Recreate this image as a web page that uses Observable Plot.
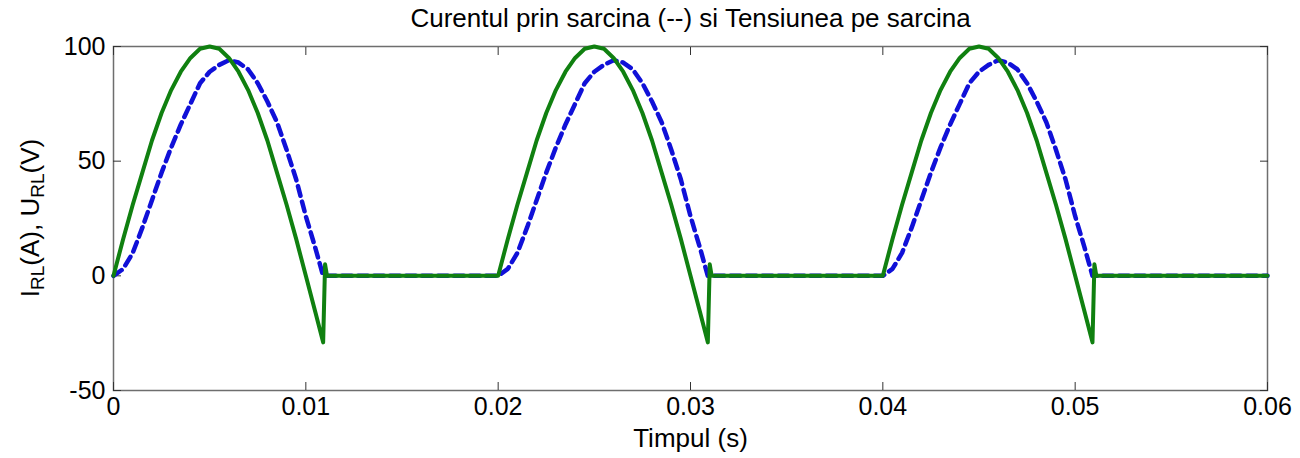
<!DOCTYPE html>
<html>
<head>
<meta charset="utf-8">
<script src="https://cdn.jsdelivr.net/npm/d3@7"></script>
<script src="https://cdn.jsdelivr.net/npm/@observablehq/plot@0.6"></script>
<style>
  html, body { margin: 0; padding: 0; background: #fff; }
  #chart svg { display: block; }
</style>
</head>
<body>
<div id="chart"></div>
<script>
// ---- data ----
const titleText = "Curentul prin sarcina (--) si Tensiunea pe sarcina";
const xLabel = "Timpul (s)";
const xTicks = [0, 0.01, 0.02, 0.03, 0.04, 0.05, 0.06];
const xTickLabels = ["0", "0.01", "0.02", "0.03", "0.04", "0.05", "0.06"];
const yTicks = [-50, 0, 50, 100];
const yTickLabels = ["-50", "0", "50", "100"];
const periodStarts = [0, 0.02, 0.04];
const endTime = 0.06;

// one conduction pulse (time offset within period, s)
const pulseTime = [0, 0.0005, 0.001, 0.0015, 0.002, 0.0025, 0.003, 0.0035, 0.004, 0.0045,
  0.005, 0.0055, 0.006, 0.0065, 0.007, 0.0075, 0.008, 0.0085, 0.009, 0.0095,
  0.010, 0.0105, 0.0109];
// load voltage U_RL (V), solid green
const voltagePulse = [0, 16, 31, 45, 59, 71, 81, 89, 95, 99,
  100, 99, 95, 89, 81, 71, 59, 45, 31, 16,
  0, -16, -29];
// load current I_RL (A), dashed blue
const currentPulse = [0, 3, 10, 21, 33, 45, 56, 66, 75, 84,
  89, 92, 94, 93, 90, 84, 76, 67, 55, 42,
  26, 12, 0];
// voltage spike when current dies out
const spikeTime = [0.0110, 0.0111];
const spikeVoltage = [5, 0];

// ---- build series ----
const voltage = [];
const current = [];
for (const t0 of periodStarts) {
  pulseTime.forEach((t, i) => {
    voltage.push({t: t0 + t, v: voltagePulse[i]});
    current.push({t: t0 + t, v: currentPulse[i]});
  });
  spikeTime.forEach((t, i) => voltage.push({t: t0 + t, v: spikeVoltage[i]}));
}
voltage.push({t: endTime, v: 0});
current.push({t: endTime, v: 0});

const font = "'Liberation Sans', Arial, Helvetica, sans-serif";
const green = "#108010";
const blue = "#1010d8";
const frameColor = "#6e6e6e";

const chart = Plot.plot({
  width: 1300,
  height: 458,
  marginLeft: 113,
  marginRight: 33,
  marginTop: 46,
  marginBottom: 68,
  style: {fontFamily: font, fontSize: "25px", color: "#000", background: "#fff"},
  x: {domain: [0, 0.06], label: null},
  y: {domain: [-50, 100], label: null},
  marks: [
    Plot.frame({stroke: frameColor, strokeWidth: 1.5}),
    // inward ticks on all four sides
    Plot.axisX(xTicks, {anchor: "bottom", tickSize: -8, tickFormat: () => "", label: null, stroke: "#333"}),
    Plot.axisX(xTicks, {anchor: "top", tickSize: -8, tickFormat: () => "", label: null, stroke: "#333"}),
    Plot.axisY(yTicks, {anchor: "left", tickSize: -8, tickFormat: () => "", label: null, stroke: "#333"}),
    Plot.axisY(yTicks, {anchor: "right", tickSize: -8, tickFormat: () => "", label: null, stroke: "#333"}),
    // tick labels
    Plot.axisX(xTicks, {anchor: "bottom", tickSize: 0, tickPadding: 7, tickFormat: (d, i) => xTickLabels[i], label: null, fill: "#000", fontSize: 25}),
    Plot.axisY(yTicks, {anchor: "left", tickSize: 0, tickPadding: 8, tickFormat: (d, i) => yTickLabels[i], label: null, fill: "#000", fontSize: 25}),
    // series
    Plot.line(current, {x: "t", y: "v", stroke: blue, strokeWidth: 4.5, strokeDasharray: "10,6", strokeLinejoin: "round"}),
    Plot.line(voltage, {x: "t", y: "v", stroke: green, strokeWidth: 4, strokeLinejoin: "round"}),
    // title and x label
    Plot.text([titleText], {frameAnchor: "top", lineAnchor: "middle", dy: -28, fontSize: 26, fill: "#000"}),
    Plot.text([xLabel], {frameAnchor: "bottom", lineAnchor: "middle", dy: 48, fontSize: 26, fill: "#000"})
  ]
});

document.getElementById("chart").appendChild(chart);

// y-axis label with subscripts
const svg = d3.select(chart);
const yl = svg.append("text")
  .attr("transform", `translate(32, ${(46 + 390) / 2}) rotate(-90)`)
  .attr("text-anchor", "middle")
  .attr("dominant-baseline", "middle")
  .attr("font-family", font)
  .attr("font-size", 26)
  .attr("fill", "#000");
yl.append("tspan").text("I");
yl.append("tspan").attr("font-size", 19).attr("dy", 7).text("RL");
yl.append("tspan").attr("dy", -7).text("(A), U");
yl.append("tspan").attr("font-size", 19).attr("dy", 7).text("RL");
yl.append("tspan").attr("dy", -7).text("(V)");
</script>
</body>
</html>
